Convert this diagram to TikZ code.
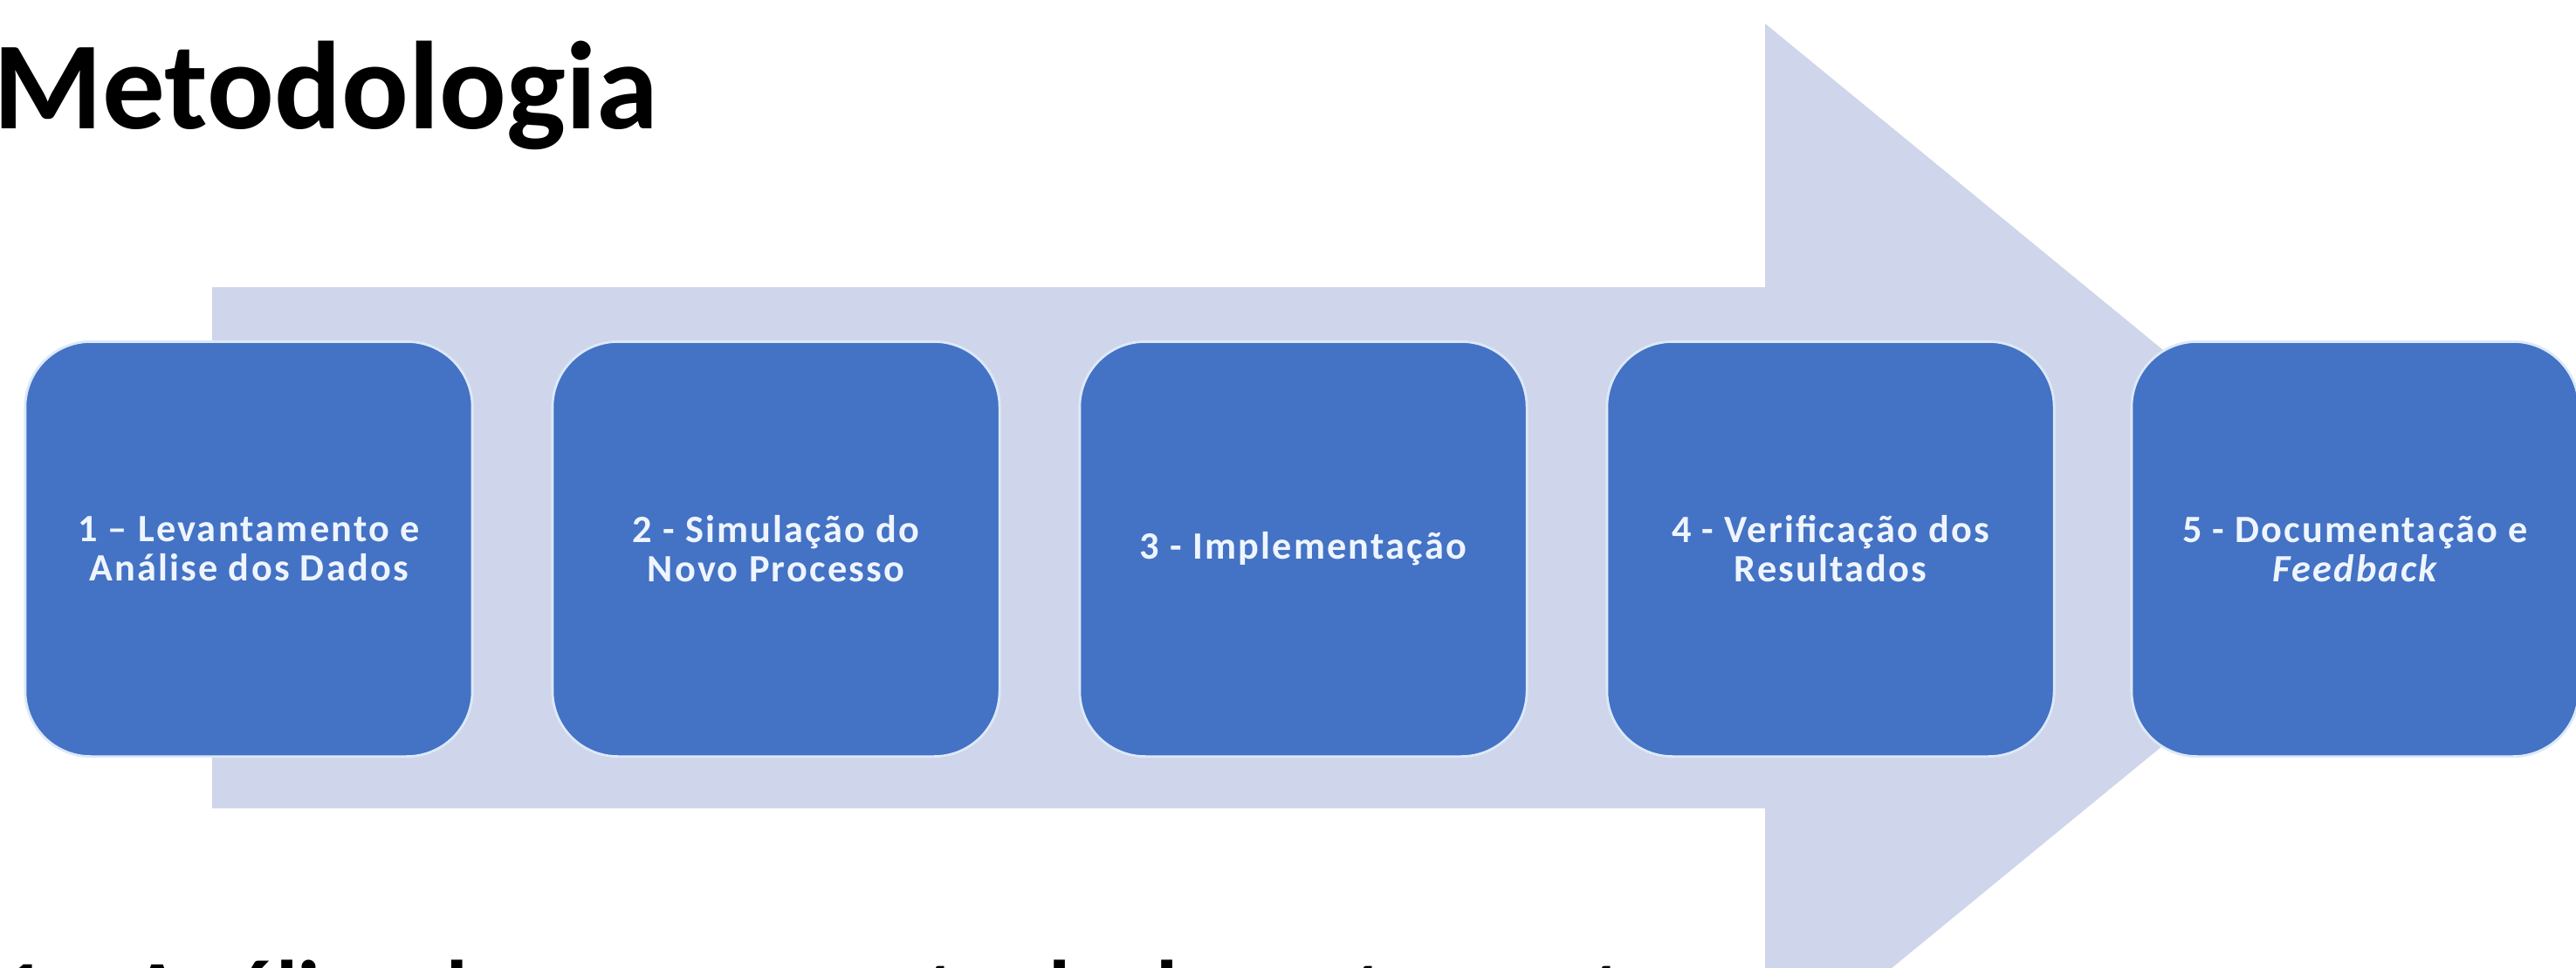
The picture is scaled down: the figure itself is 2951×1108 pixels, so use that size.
\documentclass[tikz,border=0pt]{standalone}
\usepackage{fontspec}
\setmainfont{Carlito}
\newfontfamily\boxfont[LetterSpace=5]{Carlito}
\definecolor{arrowfill}{HTML}{CFD5EA}
\definecolor{boxfill}{HTML}{4472C4}
\definecolor{boxline}{HTML}{DCE9F8}
\definecolor{boxtext}{HTML}{EEF5FF}
\tikzset{
  stepbox/.style={draw=boxline, line width=0.8pt, fill=boxfill, rounded corners=0.75cm,
    minimum width=5.12cm, minimum height=4.75cm, inner sep=0pt, align=center,
    text=boxtext, font=\boxfont\bfseries\fontsize{12.6}{12.8}\selectfont},
  titletext/.style={inner sep=0pt, anchor=base west, font=\bfseries\fontsize{40.7}{48}\selectfont},
  bottomtext/.style={inner sep=0pt, anchor=base west, font=\bfseries\fontsize{29}{32}\selectfont},
}
\begin{document}
\begin{tikzpicture}[x=0.01cm, y=-0.01cm]
\useasboundingbox (0,0) rectangle (2951,1108);
\clip (0,0) rectangle (2951,1108);
\fill[white] (0,0) rectangle (2951,1108);
% clipped line at the bottom (only the tops of its letters are visible)
\node[bottomtext] (bottomline) at (0,1171) {1 – Análise do processo atual e levantamento};
% big arrow
\fill[arrowfill] (243,329) -- (2022,329) -- (2022,27) -- (2754,627.5)
  -- (2022,1228) -- (2022,926) -- (243,926) -- cycle;
% title
\node[titletext] (title) at (-8,147) {Metodologia};
% steps
\node[stepbox] (b1) at (285,629) {1 – Levantamento e\\Análise dos Dados};
\node[stepbox] (b2) at (889,629) {2 - Simulação do\\Novo Processo};
\node[stepbox] (b3) at (1493,629) {3 - Implementação};
\node[stepbox] (b4) at (2097,629) {4 - Verificação dos\\Resultados};
\node[stepbox] (b5) at (2698,629) {5 - Documentação e\\\itshape Feedback};
\end{tikzpicture}
\end{document}
